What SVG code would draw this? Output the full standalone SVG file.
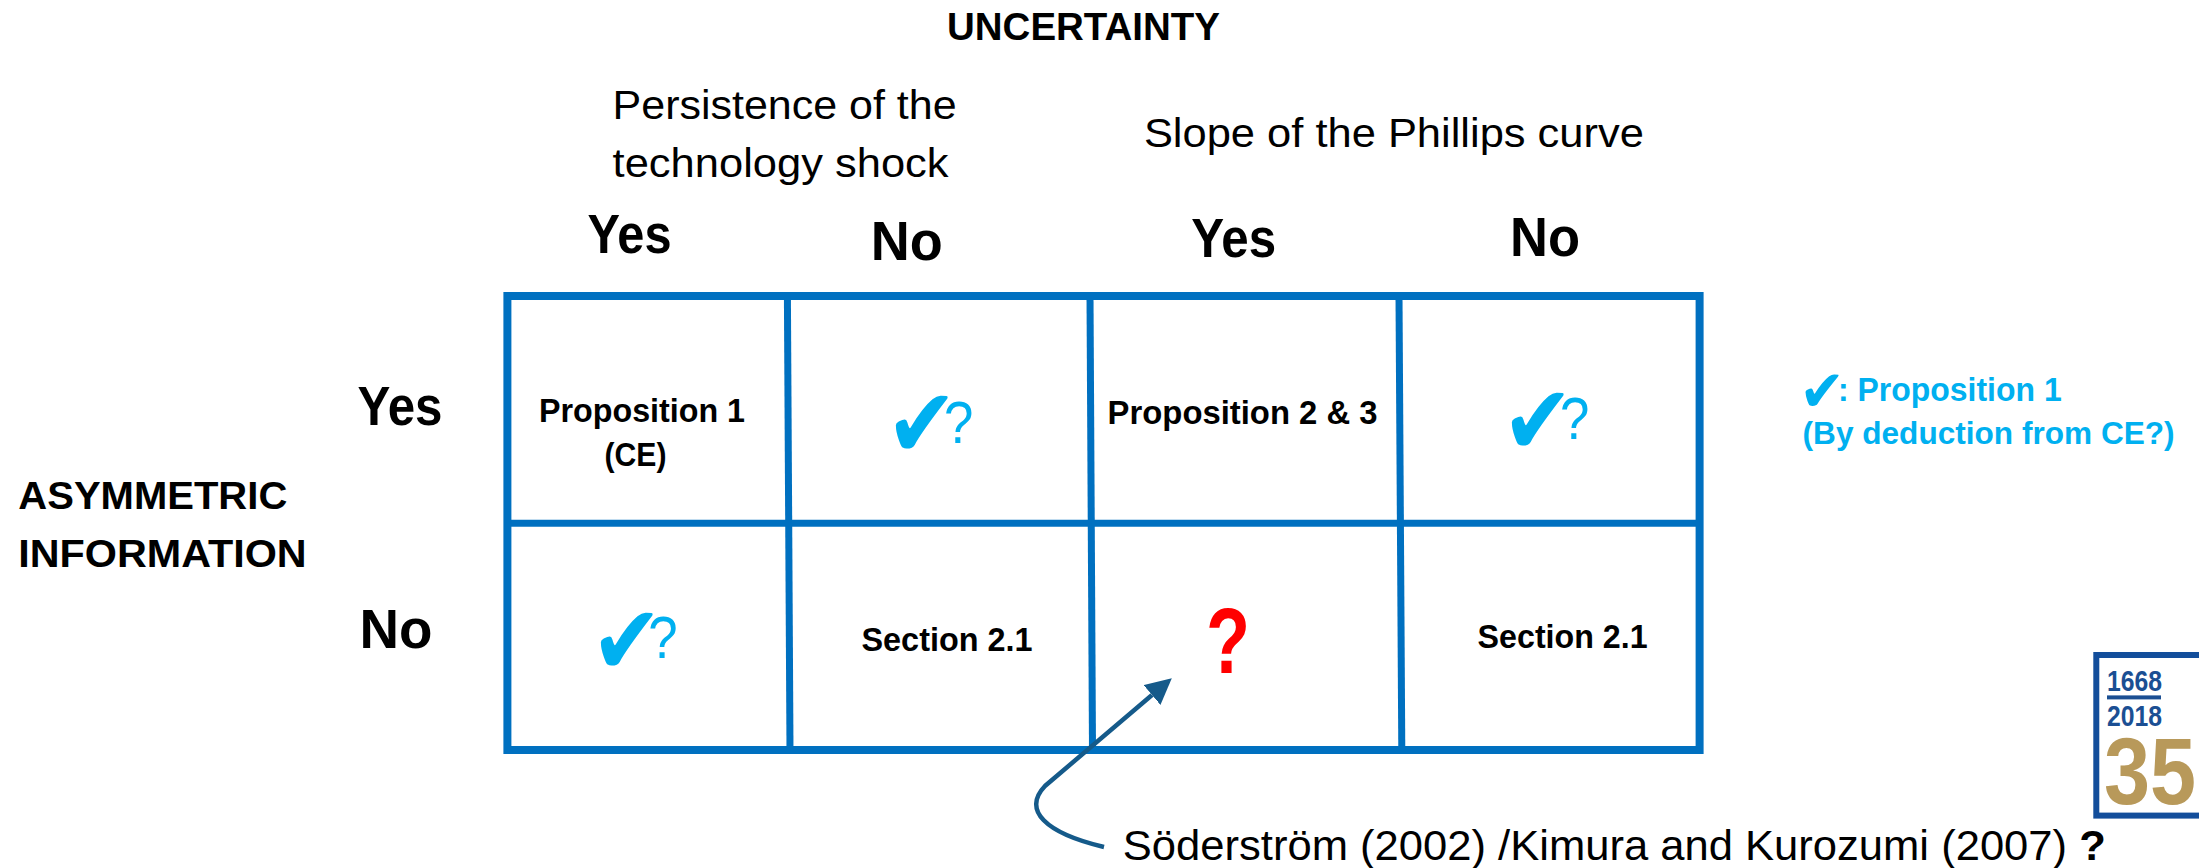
<svg xmlns="http://www.w3.org/2000/svg" width="2199" height="868" viewBox="0 0 2199 868">
<style>
  text { font-family: "Liberation Sans", Arial, sans-serif; fill: #000; }
  .b { font-weight: bold; }
  .hdr { font-size: 56px; font-weight: bold; text-anchor: middle; }
  .cell { font-size: 32.5px; font-weight: bold; text-anchor: middle; }
  .sub { font-size: 40.5px; }
  .cap { font-size: 38.5px; font-weight: bold; }
  .cyan { fill: #00B0F0; }
  .mark { fill: #00B0F0; }
  .chk { font-family: "DejaVu Sans", sans-serif; font-size: 97px; }
  .q { font-family: "Liberation Sans", Arial, sans-serif; font-size: 60px; }
  .grid { stroke: #0070C0; fill: none; }
</style>
<defs>
  <marker id="ah" markerUnits="userSpaceOnUse" markerWidth="28" markerHeight="28" refX="0" refY="13" orient="auto">
    <path d="M0,0 L26,13 L0,26 z" fill="#155A8A"/>
  </marker>
</defs>
<rect width="2199" height="868" fill="#fff"/>

<g id="title">
  <text class="b" x="947" y="39.5" font-size="38" textLength="273" lengthAdjust="spacingAndGlyphs">UNCERTAINTY</text>
</g>

<g id="persistence-header">
  <text class="sub" x="612.6" y="119.3" textLength="344" lengthAdjust="spacingAndGlyphs">Persistence of the</text>
  <text class="sub" x="612.6" y="176.7" textLength="336" lengthAdjust="spacingAndGlyphs">technology shock</text>
</g>
<g id="slope-header">
  <text class="sub" x="1143.9" y="146.7" textLength="500" lengthAdjust="spacingAndGlyphs">Slope of the Phillips curve</text>
</g>

<g id="col-headers">
  <text class="hdr" x="629.5" y="253.3" textLength="84" lengthAdjust="spacingAndGlyphs">Yes</text>
  <text class="hdr" x="906.8" y="260" textLength="72" lengthAdjust="spacingAndGlyphs">No</text>
  <text class="hdr" x="1233.7" y="257.3" textLength="85" lengthAdjust="spacingAndGlyphs">Yes</text>
  <text class="hdr" x="1545" y="256" textLength="70" lengthAdjust="spacingAndGlyphs">No</text>
</g>

<g id="row-headers">
  <text class="hdr" x="400" y="425" textLength="85" lengthAdjust="spacingAndGlyphs">Yes</text>
  <text class="hdr" x="396" y="648.3" textLength="73" lengthAdjust="spacingAndGlyphs">No</text>
  <text class="cap" x="18.3" y="509.3" textLength="269" lengthAdjust="spacingAndGlyphs">ASYMMETRIC</text>
  <text class="cap" x="18.3" y="566.7" textLength="288.4" lengthAdjust="spacingAndGlyphs">INFORMATION</text>
</g>

<g id="grid">
  <rect class="grid" x="507.4" y="296" width="1192.2" height="454" stroke-width="8"/>
  <line class="grid" x1="787.4" y1="296" x2="790" y2="750" stroke-width="7"/>
  <line class="grid" x1="1090" y1="296" x2="1092.5" y2="750" stroke-width="7"/>
  <line class="grid" x1="1399" y1="296" x2="1401.8" y2="750" stroke-width="7"/>
  <line class="grid" x1="507.4" y1="523.3" x2="1699.6" y2="523.3" stroke-width="7"/>
</g>

<g id="cell-r1c1">
  <text class="cell" x="642" y="422.3" textLength="206" lengthAdjust="spacingAndGlyphs">Proposition 1</text>
  <text class="cell" x="635.5" y="465.7" textLength="62" lengthAdjust="spacingAndGlyphs">(CE)</text>
</g>
<g id="cell-r1c2">
  <text class="mark" transform="translate(886,457) scale(0.88,1)"><tspan class="chk" x="0" y="0">✔</tspan><tspan class="q" x="66" y="-14.3">?</tspan></text>
</g>
<g id="cell-r1c3">
  <text class="cell" x="1242.6" y="424" textLength="270" lengthAdjust="spacingAndGlyphs">Proposition 2 &amp; 3</text>
</g>
<g id="cell-r1c4">
  <text class="mark" transform="translate(1502,454) scale(0.88,1)"><tspan class="chk" x="0" y="0">✔</tspan><tspan class="q" x="66" y="-15">?</tspan></text>
</g>
<g id="cell-r2c1">
  <text class="mark" transform="translate(591,674) scale(0.88,1)"><tspan class="chk" x="0" y="0">✔</tspan><tspan class="q" x="65" y="-15.7">?</tspan></text>
</g>
<g id="cell-r2c2">
  <text class="cell" x="947" y="650.7" textLength="171" lengthAdjust="spacingAndGlyphs">Section 2.1</text>
</g>
<g id="cell-r2c3">
  <text class="b" x="1206" y="672.7" font-size="92" style="fill:#FF0000" textLength="44" lengthAdjust="spacingAndGlyphs">?</text>
</g>
<g id="cell-r2c4">
  <text class="cell" x="1562.6" y="648.3" textLength="170" lengthAdjust="spacingAndGlyphs">Section 2.1</text>
</g>

<g id="legend">
  <text class="mark" transform="translate(1799.2,411) scale(0.94,1)"><tspan class="chk" x="0" y="0" style="font-size:58px">✔</tspan><tspan class="b" x="41.3" y="-10.4" style="font-size:34px">: Proposition 1</tspan></text>
  <text class="b cyan" x="1802.6" y="444.3" font-size="31.6" textLength="372" lengthAdjust="spacingAndGlyphs">(By deduction from CE?)</text>
</g>

<g id="reference-note">
  <text x="1122.8" y="860" font-size="42" textLength="983" lengthAdjust="spacingAndGlyphs">Söderström (2002) /Kimura and Kurozumi (2007) <tspan class="b">?</tspan></text>
</g>

<g id="connectors">
  <path d="M1104,847 C1045,833 1022,810 1045,786 L1152,695" fill="none" stroke="#155A8A" stroke-width="4.5" marker-end="url(#ah)"/>
</g>

<g id="logo">
  <rect x="2096.3" y="655" width="130" height="160.6" fill="#fff" stroke="#134E9B" stroke-width="6"/>
  <text class="b" x="2107" y="690.7" font-size="30" style="fill:#1B4F93" textLength="55" lengthAdjust="spacingAndGlyphs">1668</text>
  <rect x="2107" y="695.4" width="54" height="4" fill="#1B4F93"/>
  <text class="b" x="2107" y="726" font-size="30" style="fill:#1B4F93" textLength="55" lengthAdjust="spacingAndGlyphs">2018</text>
  <text class="b" x="2104" y="803.8" font-size="95" style="fill:#B8995A" textLength="92" lengthAdjust="spacingAndGlyphs">35</text>
</g>
</svg>
